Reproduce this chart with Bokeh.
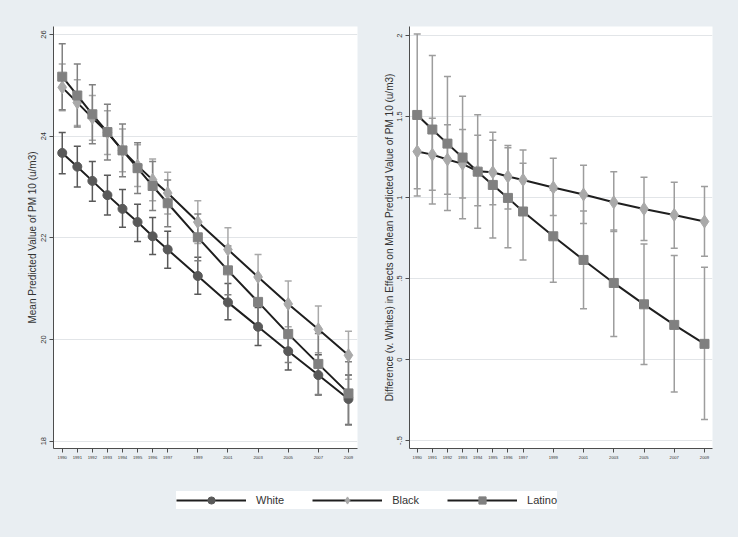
from bokeh.plotting import figure
from bokeh.models import (Whisker, TeeHead, ColumnDataSource, Range1d, Legend,
                          LegendItem, FixedTicker)
from bokeh.layouts import column, row
from bokeh.embed import file_html
from bokeh.resources import INLINE

years = [1990, 1991, 1992, 1993, 1994, 1995, 1996, 1997, 1999, 2001, 2003, 2005, 2007, 2009]

# Left panel: mean predicted PM10
white_mean = [23.67, 23.40, 23.12, 22.84, 22.57, 22.31, 22.03, 21.77, 21.25, 20.73, 20.25, 19.77, 19.30, 18.83]
white_lo = [23.26, 23.00, 22.72, 22.45, 22.21, 21.93, 21.67, 21.40, 20.89, 20.39, 19.88, 19.40, 18.91, 18.33]
white_hi = [24.07, 23.80, 23.50, 23.23, 22.95, 22.66, 22.40, 22.13, 21.62, 21.10, 20.63, 20.15, 19.70, 19.30]

black_mean = [24.96, 24.66, 24.36, 24.07, 23.72, 23.42, 23.14, 22.88, 22.31, 21.77, 21.23, 20.70, 20.20, 19.69]
black_lo = [24.50, 24.21, 23.92, 23.64, 23.30, 23.01, 22.73, 22.47, 21.89, 21.34, 20.79, 20.25, 19.74, 19.22]
black_hi = [25.42, 25.11, 24.80, 24.50, 24.14, 23.83, 23.55, 23.29, 22.73, 22.20, 21.67, 21.15, 20.66, 20.16]

latino_mean = [25.17, 24.80, 24.43, 24.08, 23.72, 23.37, 23.02, 22.68, 22.01, 21.36, 20.74, 20.11, 19.52, 18.94]
latino_lo = [24.52, 24.18, 23.85, 23.53, 23.20, 22.87, 22.54, 22.22, 21.55, 20.88, 20.22, 19.55, 18.92, 18.32]
latino_hi = [25.82, 25.42, 25.01, 24.63, 24.24, 23.87, 23.50, 23.14, 22.47, 21.84, 21.26, 20.67, 20.12, 19.56]

# Right panel: difference vs. Whites
black_diff = [1.284, 1.265, 1.235, 1.208, 1.162, 1.156, 1.130, 1.109, 1.062, 1.019, 0.971, 0.930, 0.893, 0.852]
black_diff_lo = [1.054, 1.045, 1.020, 0.998, 0.950, 0.955, 0.930, 0.920, 0.889, 0.840, 0.790, 0.735, 0.687, 0.638]
black_diff_hi = [1.514, 1.490, 1.449, 1.420, 1.385, 1.354, 1.307, 1.294, 1.243, 1.200, 1.160, 1.125, 1.094, 1.068]

latino_diff = [1.510, 1.420, 1.333, 1.247, 1.160, 1.078, 0.998, 0.914, 0.761, 0.615, 0.473, 0.341, 0.214, 0.097]
latino_diff_lo = [1.010, 0.960, 0.920, 0.870, 0.810, 0.750, 0.690, 0.614, 0.477, 0.313, 0.142, -0.031, -0.200, -0.370]
latino_diff_hi = [2.010, 1.877, 1.747, 1.625, 1.512, 1.403, 1.321, 1.212, 1.045, 0.917, 0.800, 0.713, 0.642, 0.570]

left_yticks = [18, 20, 22, 24, 26]
right_yticks = [-0.5, 0, 0.5, 1, 1.5, 2]
right_ytick_labels = ["-.5", "0", ".5", "1", "1.5", "2"]

series_names = ["White", "Black", "Latino"]

BG = "#e9eef2"
FONT = "Liberation Sans"
LINE = "#1f1f1f"
WHITE_C = "#595959"
BLACK_C = "#a9a9a9"
LATINO_C = "#808080"
AXIS_C = "#4d4d4d"


def style(p, yticks, ylabel):
    p.background_fill_color = "white"
    p.border_fill_color = BG
    p.outline_line_color = None
    p.xgrid.visible = False
    p.ygrid.grid_line_color = "#e2e5e8"
    p.ygrid.grid_line_width = 1
    p.xaxis.ticker = FixedTicker(ticks=years)
    p.yaxis.ticker = FixedTicker(ticks=yticks)
    for ax in (p.xaxis[0], p.yaxis[0]):
        ax.axis_line_color = AXIS_C
        ax.major_tick_line_color = AXIS_C
        ax.minor_tick_line_color = None
        ax.major_tick_out = 4
        ax.major_tick_in = 0
        ax.major_label_text_color = "#333333"
        ax.major_label_text_font = FONT
        ax.axis_label_text_font = FONT
        ax.axis_label_text_font_style = "normal"
        ax.axis_label_text_color = "#333333"
    p.xaxis.major_label_text_font_size = "4.2px"
    p.xaxis.major_label_standoff = 3
    p.yaxis.major_label_text_font_size = "7.5px"
    p.yaxis.major_label_orientation = "vertical"
    p.yaxis.major_label_standoff = 3
    p.yaxis.axis_label = ylabel
    p.yaxis.axis_label_text_font_size = "10px"
    p.yaxis.axis_label_standoff = 1


def whisk(p, lo, hi, color):
    src = ColumnDataSource(dict(x=years, lo=lo, hi=hi))
    w = Whisker(source=src, base="x", lower="lo", upper="hi", dimension="height",
                line_color=color, line_width=1.5,
                upper_head=TeeHead(size=7, line_color=color, line_width=1.5),
                lower_head=TeeHead(size=7, line_color=color, line_width=1.5),
                level="underlay")
    p.add_layout(w)


# ---------- Left panel ----------
p1 = figure(width=370, height=470, x_range=Range1d(1989.42, 2009.6),
            y_range=Range1d(17.856, 26.157), output_backend="svg",
            toolbar_location=None, min_border_left=53, min_border_right=13,
            min_border_top=26, min_border_bottom=22)
style(p1, left_yticks, "Mean Predicted Value of PM 10 (u/m3)")

whisk(p1, white_lo, white_hi, WHITE_C)
whisk(p1, black_lo, black_hi, BLACK_C)
whisk(p1, latino_lo, latino_hi, LATINO_C)

p1.line(years, white_mean, line_color=LINE, line_width=2)
p1.scatter(years, white_mean, marker="circle", size=9, fill_color=WHITE_C, line_color=WHITE_C)
p1.line(years, black_mean, line_color=LINE, line_width=2)
p1.scatter(years, black_mean, marker="diamond", size=13, fill_color=BLACK_C, line_color=BLACK_C)
p1.line(years, latino_mean, line_color=LINE, line_width=2)
p1.scatter(years, latino_mean, marker="square", size=9, fill_color=LATINO_C, line_color=LATINO_C)

# ---------- Right panel ----------
p2 = figure(width=368, height=470, x_range=Range1d(1989.49, 2009.53),
            y_range=Range1d(-0.549, 2.056), output_backend="svg",
            toolbar_location=None, min_border_left=39, min_border_right=26,
            min_border_top=26, min_border_bottom=22)
style(p2, right_yticks,
      "Difference (v. Whites) in Effects on Mean Predicted Value of PM 10 (u/m3)")
p2.yaxis.major_label_overrides = {float(t): s for t, s in zip(right_yticks, right_ytick_labels)}
p2.yaxis.axis_label_standoff = 0

whisk(p2, black_diff_lo, black_diff_hi, "#9d9d9d")
whisk(p2, latino_diff_lo, latino_diff_hi, "#9d9d9d")

p2.line(years, black_diff, line_color=LINE, line_width=2)
p2.scatter(years, black_diff, marker="diamond", size=13, fill_color=BLACK_C, line_color=BLACK_C)
p2.line(years, latino_diff, line_color=LINE, line_width=2)
p2.scatter(years, latino_diff, marker="square", size=9, fill_color=LATINO_C, line_color=LATINO_C)

# ---------- Legend strip ----------
# The strip's ranges exclude the data, so its renderers only feed the legend.
p3 = figure(width=738, height=67, x_range=Range1d(0, 1), y_range=Range1d(0, 1),
            output_backend="svg", toolbar_location=None,
            x_axis_location=None, y_axis_location=None,
            min_border_left=0, min_border_right=0, min_border_top=0, min_border_bottom=0)
p3.background_fill_color = BG
p3.border_fill_color = BG
p3.outline_line_color = None
p3.grid.visible = False

markers = [("circle", 9, WHITE_C), ("diamond", 13, BLACK_C), ("square", 9, LATINO_C)]
series_means = [white_mean, black_mean, latino_mean]
items = []
for name, (mk, sz, col), vals in zip(series_names, markers, series_means):
    lr = p3.line(x=years, y=vals, line_color=LINE, line_width=2)
    sr = p3.scatter(x=years, y=vals, marker=mk, size=sz, fill_color=col, line_color=col)
    items.append(LegendItem(label=name, renderers=[lr, sr]))

leg = Legend(items=items, orientation="horizontal", location=(176, 28),
             glyph_width=70, glyph_height=18, label_standoff=10, spacing=28,
             padding=7, margin=0, background_fill_color="white",
             background_fill_alpha=1.0, border_line_color=None,
             label_text_font=FONT, label_text_font_size="11px",
             label_text_color="#333333")
p3.add_layout(leg)

top_row = row(p1, p2, styles={"background-color": BG})
layout = column(top_row, p3, styles={"background-color": BG})

open("out.html", "w").write(file_html(layout, INLINE))
